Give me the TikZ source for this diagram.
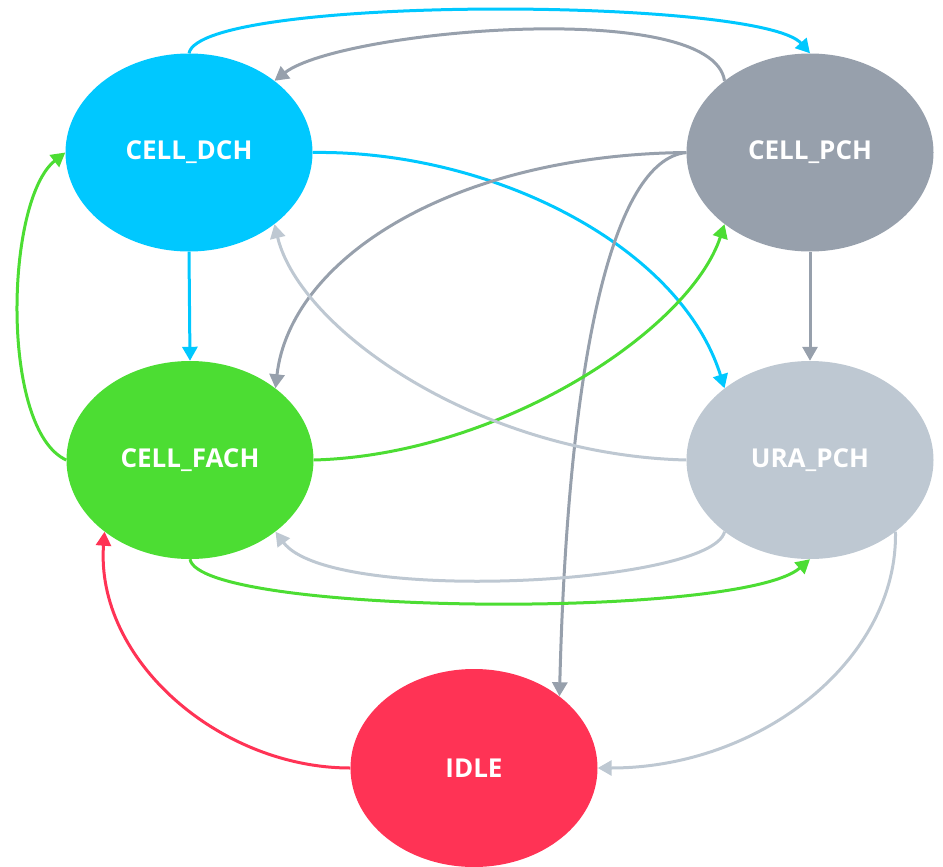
\documentclass[tikz,border=0pt]{standalone}
\usepackage{fontspec}
\setmainfont{Open Sans}
\usetikzlibrary{shapes.geometric,arrows.meta}
\definecolor{dchcol}{HTML}{00C8FF}
\definecolor{pchcol}{HTML}{97A0AC}
\definecolor{uracol}{HTML}{BEC8D2}
\definecolor{fachcol}{HTML}{4CDD33}
\definecolor{idlecol}{HTML}{FF3355}
\tikzset{
  state/.style={ellipse, draw=none, inner sep=0pt, minimum width=247pt, minimum height=198pt,
    text=white, font=\fontsize{26}{30}\selectfont\bfseries},
  trans/.style={line width=3pt, -{Triangle[length=14pt,width=15pt]}},
}
\begin{document}
\begin{tikzpicture}[x=1pt,y=-1pt]
\useasboundingbox (0,0) rectangle (943,867);

% states
\node[state, fill=dchcol]  (dch)  at (189,152.5) {CELL\_DCH};
\node[state, fill=pchcol]  (pch)  at (810,152.5) {CELL\_PCH};
\node[state, fill=fachcol] (fach) at (190,460)   {CELL\_FACH};
\node[state, fill=uracol]  (ura)  at (810,460)   {URA\_PCH};
\node[state, fill=idlecol] (idle) at (474,768)   {IDLE};

% transitions out of CELL_DCH
\draw[trans, dchcol] (dch.north) .. controls (200,-5) and (760,-3) .. (pch.north);
\draw[trans, dchcol] (dch.east) .. controls (490,150) and (680,245) .. (ura.140);
\draw[trans, dchcol] (dch.south) -- (fach.north);

% transitions out of CELL_PCH
\draw[trans, pchcol] (pch.140) .. controls (712,-3) and (340,30) .. (dch.40);
\draw[trans, pchcol] (pch.west) .. controls (450,155) and (290,260) .. (fach.40);
\draw[trans, pchcol] (pch.west) .. controls (612,160) and (568,360) .. (idle.40);
\draw[trans, pchcol] (pch.south) -- (ura.north);

% transitions out of CELL_FACH
\draw[trans, fachcol] (fach.west) .. controls (0,430) and (5,200) .. (dch.west);
\draw[trans, fachcol] (fach.east) .. controls (500,455) and (690,330) .. (pch.220);
\draw[trans, fachcol] (fach.south) .. controls (200,615) and (740,620) .. (ura.south);

% transitions out of URA_PCH
\draw[trans, uracol] (ura.west) .. controls (480,455) and (300,330) .. (dch.320);
\draw[trans, uracol] (ura.220) .. controls (712,585) and (330,605) .. (fach.320);
\draw[trans, uracol] (ura.320) .. controls (898,660) and (760,768) .. (idle.east);

% transition out of IDLE
\draw[trans, idlecol] (idle.west) .. controls (220,768) and (95,660) .. (fach.220);
\end{tikzpicture}
\end{document}
